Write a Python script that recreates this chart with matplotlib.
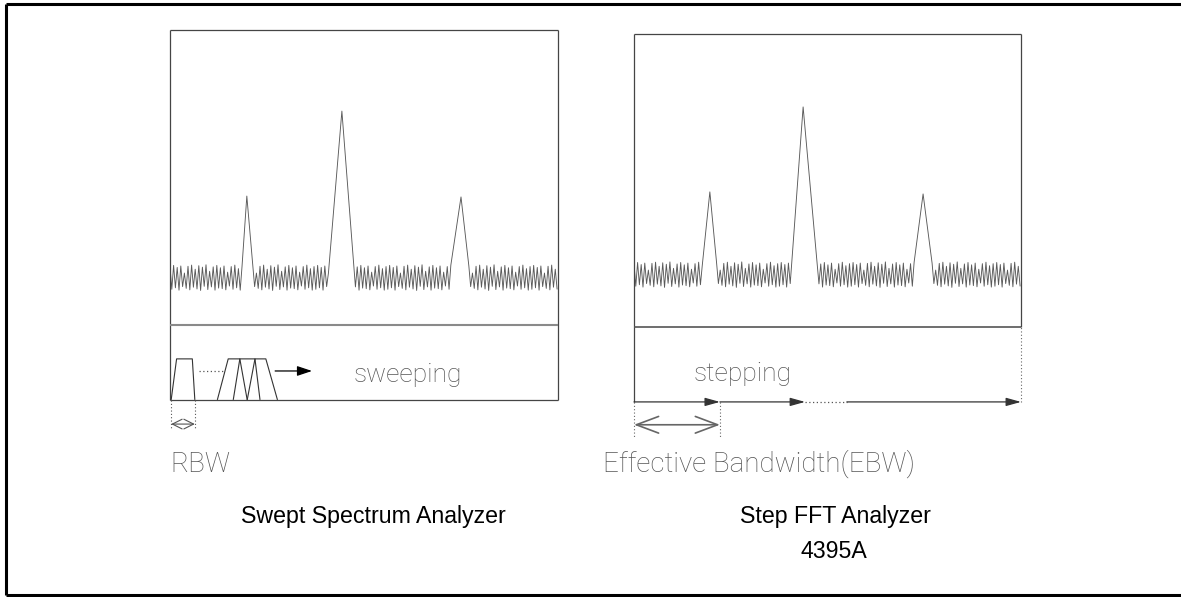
import numpy as np
import matplotlib
matplotlib.use("Agg")
import matplotlib.pyplot as plt

# ------------------------------------------------------------------ data
# noise floor amplitudes (panel units: 0 = divider line, 100 = top frame)
noise_left = [19.8, 12.1, 20.2, 12.6, 19.5, 11.8, 20.0, 13.0, 17.6, 12.4,
              19.9, 11.9, 20.3, 12.8, 18.9, 12.2, 20.1, 11.7, 19.6, 13.1,
              20.4, 12.0, 18.2, 12.9, 19.7, 11.8, 20.2, 12.5, 19.4, 12.3,
              20.0, 11.9, 17.9, 13.2, 19.8, 12.1, 20.3, 12.6, 19.1, 11.8]
noise_right = [21.6, 13.9, 22.0, 14.4, 21.3, 13.6, 21.8, 14.8, 19.4, 14.2,
               21.7, 13.7, 22.1, 14.6, 20.7, 14.0, 21.9, 13.5, 21.4, 14.9,
               22.2, 13.8, 20.0, 14.7, 21.5, 13.6, 22.0, 14.3, 21.2, 14.1,
               21.8, 13.7, 19.7, 15.0, 21.6, 13.9, 22.1, 14.4, 20.9, 13.6]
noise_step = 0.464          # frequency spacing of noise samples

# peaks: base start, centre, base end (frequency units 0-100), amplitude
peak_start_left = [18.6, 41.2, 72.7]
peak_center_left = [19.8, 44.3, 75.0]
peak_end_left = [21.4, 47.7, 76.8]
peak_amp_left = [43.7, 72.5, 43.4]

peak_start_right = [17.8, 40.8, 72.6]
peak_center_right = [19.6, 43.7, 74.7]
peak_end_right = [21.2, 47.5, 77.0]
peak_amp_right = [46.1, 75.1, 45.4]

# RBW filter shapes (swept analyser): x of bottom-left, top-left, top-right, bottom-right
filter_first = [0.3, 1.7, 5.75, 6.4]
filters_group = [[12.2, 15.0, 18.0, 19.9],
                 [16.3, 18.0, 21.9, 23.2],
                 [19.9, 21.9, 24.7, 27.7]]
filter_top = -11.5
lower_bottom_left = -25.4

# step FFT segments (frequency units)
step_edges = [0.0, 22.2, 44.2]
step_dotted = [44.2, 55.0]
step_last = [55.0, 100.0]
lower_bottom_right = -25.6

titles = ["Swept Spectrum Analyzer", "Step FFT Analyzer", "4395A"]

# ------------------------------------------------------------------ figure
W, H = 1181, 597
fig = plt.figure(figsize=(W / 100, H / 100), dpi=100)

def fx(px):
    return px / W

def fy(py):
    return 1 - py / H

# outer border (right side runs past the image edge)
for xs, ys in [([6, W + 20], [4, 4]), ([6, 6], [4, 595]), ([6, W + 20], [595, 595])]:
    fig.add_artist(plt.Line2D([fx(v) for v in xs], [fy(v) for v in ys],
                              color="black", lw=2.2, solid_capstyle="butt"))

frame_c = "#454545"
trace_c = "#5a5a5a"
thin_c = "#555555"
thin_font = dict(family=["Roboto", "DejaVu Sans"], fontweight="light", color=thin_c)


def spectrum(noise, start, center, end, amp):
    xs = np.arange(0, 100 + 1e-6, noise_step)
    ys = np.resize(np.array(noise), xs.size)
    keep = np.ones(xs.size, bool)
    for s, e in zip(start, end):
        keep &= ~((xs > s) & (xs < e))
    px = list(xs[keep]) + list(center)
    py = list(ys[keep]) + list(amp)
    order = np.argsort(px)
    return np.array(px)[order], np.array(py)[order]


def line(ax, x, y, **kw):
    kw.setdefault("color", frame_c)
    kw.setdefault("lw", 0.9)
    ax.plot(x, y, clip_on=False, solid_capstyle="butt", **kw)


def arrow(ax, x0, x1, y, style="-|>", color="black", lw=0.9, ms=11, hl=None, hw=None):
    if hl is not None:
        style = f"{style},head_length={hl},head_width={hw}"
    ax.annotate("", xy=(x1, y), xytext=(x0, y),
                arrowprops=dict(arrowstyle=style, color=color, lw=lw,
                                mutation_scale=ms, shrinkA=0, shrinkB=0),
                annotation_clip=False)


# ---------------- left panel: swept analyser
axL = fig.add_axes([fx(170), fy(440), fx(388), 410 / H])
axL.set_xlim(0, 100)
axL.set_ylim(-39.0, 100)
axL.axis("off")

x, y = spectrum(noise_left, peak_start_left, peak_center_left, peak_end_left, peak_amp_left)
axL.plot(x, y, color=trace_c, lw=0.65)

line(axL, [0, 100], [100, 100])
line(axL, [0, 0], [lower_bottom_left, 100])
line(axL, [100, 100], [lower_bottom_left, 100])
line(axL, [0, 100], [0, 0], color="#8a8a8a", lw=1.5)
line(axL, [0, 100], [lower_bottom_left, lower_bottom_left])

b0, t0, t1, b1 = filter_first
line(axL, [b0, t0, t1, b1], [lower_bottom_left, filter_top, filter_top, lower_bottom_left], color="#333333", lw=0.8)
for b0, t0, t1, b1 in filters_group:
    line(axL, [b0, t0, t1, b1], [lower_bottom_left, filter_top, filter_top, lower_bottom_left], color="#333333", lw=0.8)
line(axL, [7.5, 13.7], [-15.6, -15.6], color="#555555", lw=0.9, ls=(0, (1, 2)))
arrow(axL, 27.1, 36.6, -15.6, ms=10, hl=0.9, hw=0.3)
axL.text(47.4, -19.3, "sweeping", fontsize=19, va="baseline", ha="left", **thin_font)

for xv in filter_first[0:4:3]:
    line(axL, [xv, xv], [lower_bottom_left, -35.6], color="#555555", lw=0.8, ls=(0, (1, 2)))
arrow(axL, filter_first[0], filter_first[3], -33.6, style="<->", color="#555555", lw=0.8,
      ms=10, hl=0.7, hw=0.35)

# ---------------- right panel: step FFT analyser
axR = fig.add_axes([fx(634), fy(440), fx(387), 406 / H])
axR.set_xlim(0, 100)
axR.set_ylim(-38.6, 100)
axR.axis("off")

x, y = spectrum(noise_right, peak_start_right, peak_center_right, peak_end_right, peak_amp_right)
axR.plot(x, y, color=trace_c, lw=0.65)

line(axR, [0, 100], [100, 100])
line(axR, [0, 0], [lower_bottom_right, 100])
line(axR, [100, 100], [0, 100])
line(axR, [100, 100], [lower_bottom_right, 0], color="#666666", lw=0.8, ls=(0, (1, 2)))
line(axR, [0, 100], [0, 0], color="#555555", lw=1.2)

for seg in [step_edges[0:2], step_edges[1:3], step_last]:
    arrow(axR, seg[0], seg[1], lower_bottom_right, color="#333333", ms=10, hl=0.9, hw=0.25)
line(axR, step_dotted, [lower_bottom_right] * 2, color="#555555", lw=0.9, ls=(0, (1, 2)))
axR.text(15.5, -18.4, "stepping", fontsize=19, va="baseline", ha="left", **thin_font)

for xv in step_edges[:2]:
    line(axR, [xv, xv], [lower_bottom_right, -37.5], color="#666666", lw=0.8, ls=(0, (1, 2)))
arrow(axR, step_edges[0], step_edges[1], -33.4, style="<->", color="#666666", lw=1.2,
      ms=10, hl=1.6, hw=0.6)

# ---------------- labels
fig.text(fx(170), fy(472), "RBW", fontsize=20, va="baseline", ha="left", **thin_font)
fig.text(fx(603), fy(472), "Effective Bandwidth(EBW)", fontsize=20, va="baseline", ha="left", **thin_font)

sans = dict(family=["Liberation Sans", "DejaVu Sans"], color="black", fontsize=16.7)
fig.text(fx(373.5), fy(523), titles[0], ha="center", va="baseline", **sans)
fig.text(fx(835.5), fy(523), titles[1], ha="center", va="baseline", **sans)
fig.text(fx(834), fy(558), titles[2], ha="center", va="baseline", **sans)

fig.savefig("out.png", dpi=100, facecolor="white")
